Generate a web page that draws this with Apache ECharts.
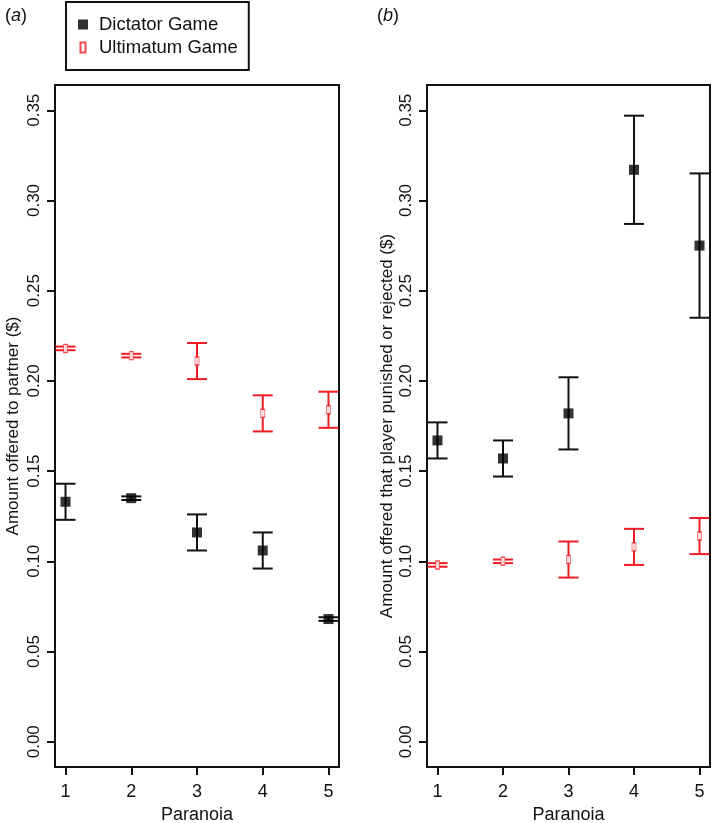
<!DOCTYPE html>
<html>
<head>
<meta charset="utf-8">
<script src="https://cdn.jsdelivr.net/npm/echarts@6/dist/echarts.min.js"></script>
<style>
  html, body { margin: 0; padding: 0; background: #fff; }
  #chart { width: 714px; height: 823px; }
</style>
</head>
<body>
<div id="chart"></div>
<script>
// data
const paranoia = [1, 2, 3, 4, 5]
const yTicks = [0, 0.05, 0.1, 0.15, 0.2, 0.25, 0.3, 0.35]

// panel (a): amount offered to partner
const dictatorOffer = [0.133, 0.135, 0.116, 0.106, 0.068]
const dictatorOfferErr = [0.010, 0.001, 0.010, 0.010, 0.001]
const ultimatumOffer = [0.218, 0.214, 0.211, 0.182, 0.184]
const ultimatumOfferErr = [0.001, 0.001, 0.010, 0.010, 0.010]

// panel (b): amount offered that player punished or rejected
const dictatorPunished = [0.167, 0.157, 0.182, 0.317, 0.275]
const dictatorPunishedErr = [0.010, 0.010, 0.020, 0.030, 0.040]
const ultimatumRejected = [0.098, 0.100, 0.101, 0.108, 0.114]
const ultimatumRejectedErr = [0.001, 0.001, 0.010, 0.010, 0.010]

const FONT = '"Liberation Sans", Arial, sans-serif'
const RED = '#ee1d23'

const chart = echarts.init(document.getElementById('chart'))

function points(vals) {
  return paranoia.map((x, i) => [x, vals[i]])
}
function bars(vals, errs) {
  return paranoia.map((x, i) => [x, vals[i] - errs[i], vals[i] + errs[i]])
}

// error bar with caps
function errorBar(color) {
  return function (params, api) {
    const lo = api.coord([api.value(0), api.value(1)])
    const hi = api.coord([api.value(0), api.value(2)])
    const w = 10
    const style = { stroke: color, lineWidth: 2 }
    return {
      type: 'group',
      children: [
        { type: 'line', shape: { x1: lo[0], y1: lo[1], x2: hi[0], y2: hi[1] }, style },
        { type: 'line', shape: { x1: lo[0] - w, y1: lo[1], x2: lo[0] + w, y2: lo[1] }, style },
        { type: 'line', shape: { x1: hi[0] - w, y1: hi[1], x2: hi[0] + w, y2: hi[1] }, style },
      ],
    }
  }
}

function xAxis(idx) {
  return {
    type: 'value',
    gridIndex: idx,
    min: 0.84,
    max: 5.16,
    name: 'Paranoia',
    nameLocation: 'middle',
    nameGap: 39,
    nameTextStyle: { fontFamily: FONT, fontSize: 18, color: '#111' },
    axisLine: { show: false, onZero: false },
    splitLine: { show: false },
    axisTick: { show: true, length: 8, customValues: paranoia, lineStyle: { color: '#111', width: 2 } },
    axisLabel: { customValues: paranoia, margin: 16, fontFamily: FONT, fontSize: 18, color: '#111' },
  }
}

function yAxis(idx, title, gap) {
  return {
    type: 'value',
    gridIndex: idx,
    min: -0.014,
    max: 0.364,
    name: title,
    nameLocation: 'middle',
    nameGap: gap,
    nameTextStyle: { fontFamily: FONT, fontSize: 17, color: '#111' },
    axisLine: { show: false, onZero: false },
    splitLine: { show: false },
    axisTick: { show: true, length: 8, customValues: yTicks, lineStyle: { color: '#111', width: 2 } },
    axisLabel: {
      customValues: yTicks,
      rotate: 90,
      margin: 12,
      fontFamily: FONT,
      fontSize: 17,
      color: '#111',
      formatter: v => v.toFixed(2),
    },
  }
}

const dictatorSymbol = { symbol: 'rect', symbolSize: 10, itemStyle: { color: '#000' } }
const ultimatumSymbol = {
  symbol: 'rect',
  symbolSize: [4, 8],
  itemStyle: { color: '#fff', borderColor: RED, borderWidth: 1 },
}

const panelLabel = {
  fontFamily: FONT, fontSize: 18, fontWeight: 'normal', color: '#111',
  rich: { i: { fontFamily: FONT, fontSize: 18, fontStyle: 'italic', color: '#111' } },
}

const option = {
  animation: false,
  backgroundColor: '#fff',
  title: [
    { text: '({i|a})', left: 0, top: 2, textStyle: panelLabel },
    { text: '({i|b})', left: 372, top: 2, textStyle: panelLabel },
  ],
  legend: {
    orient: 'vertical',
    left: 66,
    top: 2,
    padding: [13, 11, 13, 12],
    itemGap: 4,
    itemWidth: 10,
    itemHeight: 10,
    borderColor: '#111',
    borderWidth: 2,
    textStyle: { fontFamily: FONT, fontSize: 18.5, color: '#111', padding: [0, 0, 0, 6] },
    data: [
      { name: 'Dictator Game', icon: 'rect' },
      { name: 'Ultimatum Game', icon: 'path://M0,0h4v8h-4z' },
    ],
  },
  grid: [
    { left: 55, top: 85, width: 284, height: 682, outerBoundsMode: 'none', show: true, borderColor: '#111', borderWidth: 2 },
    { left: 427, top: 85, width: 283, height: 682, outerBoundsMode: 'none', show: true, borderColor: '#111', borderWidth: 2 },
  ],
  xAxis: [xAxis(0), xAxis(1)],
  yAxis: [
    yAxis(0, 'Amount offered to partner ($)', 33),
    yAxis(1, 'Amount offered that player punished or rejected ($)', 31),
  ],
  series: [
    { type: 'custom', xAxisIndex: 0, yAxisIndex: 0, renderItem: errorBar('#111'), data: bars(dictatorOffer, dictatorOfferErr), z: 2 },
    { type: 'custom', xAxisIndex: 0, yAxisIndex: 0, renderItem: errorBar(RED), data: bars(ultimatumOffer, ultimatumOfferErr), z: 2 },
    { type: 'custom', xAxisIndex: 1, yAxisIndex: 1, renderItem: errorBar('#111'), data: bars(dictatorPunished, dictatorPunishedErr), z: 2 },
    { type: 'custom', xAxisIndex: 1, yAxisIndex: 1, renderItem: errorBar(RED), data: bars(ultimatumRejected, ultimatumRejectedErr), z: 2 },
    { name: 'Dictator Game', type: 'scatter', xAxisIndex: 0, yAxisIndex: 0, data: points(dictatorOffer), z: 3, ...dictatorSymbol },
    { name: 'Ultimatum Game', type: 'scatter', xAxisIndex: 0, yAxisIndex: 0, data: points(ultimatumOffer), z: 3, ...ultimatumSymbol },
    { name: 'Dictator Game', type: 'scatter', xAxisIndex: 1, yAxisIndex: 1, data: points(dictatorPunished), z: 3, ...dictatorSymbol },
    { name: 'Ultimatum Game', type: 'scatter', xAxisIndex: 1, yAxisIndex: 1, data: points(ultimatumRejected), z: 3, ...ultimatumSymbol },
  ],
}

chart.setOption(option)
</script>
</body>
</html>
